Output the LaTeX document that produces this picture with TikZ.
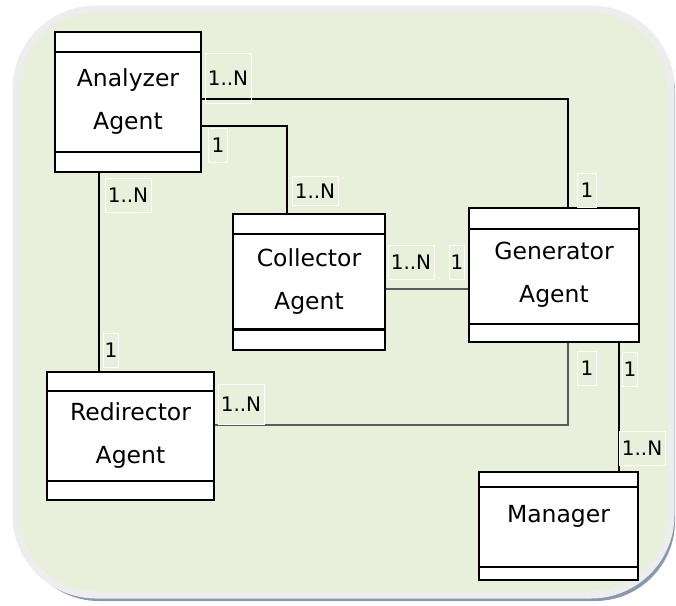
\documentclass[tikz,border=0pt]{standalone}
\usepackage{fontspec}
\setmainfont{DejaVu Sans}
\usetikzlibrary{positioning,calc}

\definecolor{panelgreen}{HTML}{E8F0DC}
\definecolor{panelrim}{HTML}{EDEDED}
\definecolor{panelshade}{HTML}{8898AE}
\definecolor{linkgray}{HTML}{5A5A5A}

% horizontal bands of a class box
\newcommand{\bands}[4][1.7pt]{%
  \draw[line width=1.7pt] ([yshift=-#3]#2.north west) -- ([yshift=-#3]#2.north east);
  \draw[line width=#1]    ([yshift=#4]#2.south west) -- ([yshift=#4]#2.south east);
}

\begin{document}
\begin{tikzpicture}[x=1pt, y=-1pt,
    class/.style={draw, fill=white, line width=1.7pt, align=center, inner sep=0pt,
                  font=\fontsize{23.5}{43}\selectfont},
    mult/.style={draw=white, line width=0.6pt, inner sep=3pt, minimum height=34pt,
                 font=\fontsize{20}{21}\selectfont},
    assoc/.style={line width=1.7pt}]

    \useasboundingbox (0,0) rectangle (676,605);

    % panel
    \fill[panelshade, rounded corners=80pt] (19,13) rectangle (675,601);
    \draw[panelrim, fill=panelgreen, line width=7pt, rounded corners=80pt] (16,9) rectangle (671,595);

    \node[class, minimum width=146pt, minimum height=140pt] (ana) at (128,102)   {Analyzer\\Agent};
    \node[class, minimum width=152pt, minimum height=136pt] (col) at (309,282)   {Collector\\Agent};
    \node[class, minimum width=170pt, minimum height=134pt] (gen) at (554,275)   {Generator\\Agent};
    \node[class, minimum width=167pt, minimum height=128pt] (red) at (130.5,436) {Redirector\\Agent};
    \node[class, minimum width=159pt, minimum height=108pt,
          text height=17pt, text depth=25pt]               (man) at (558.5,526) {Manager};

    \bands{ana}{21pt}{21pt}
    \bands[3pt]{col}{21pt}{21pt}
    \bands{gen}{22pt}{19pt}
    \bands{red}{20pt}{20pt}
    \bands{man}{16pt}{14pt}

    \draw[assoc]           ([yshift=3pt]ana.east)   -| ([xshift=14pt]gen.north);
    \draw[assoc]           ([yshift=-24pt]ana.east) -| ([xshift=-22pt]col.north);
    \draw[assoc]           ([xshift=-29pt]ana.south) -- ([xshift=-29pt]ana.south |- red.north);
    \draw[assoc, linkgray] ([yshift=-7pt]col.east)  -- ([yshift=-7pt]col.east -| gen.west);
    \draw[assoc, linkgray] ([yshift=11pt]red.east)  -| ([xshift=14pt]gen.south);
    \draw[assoc]           ([xshift=65pt]gen.south) -- ([xshift=65pt]gen.south |- man.north);

    \node[mult, minimum height=50pt] (m-ana-gen) at (228,78)  {1..N};
    \node[mult]                      (m-gen-ana) at (587,190) {1};
    \node[mult]                      (m-ana-col) at (218,145) {1};
    \node[mult, minimum height=29pt] (m-col-ana) at (315,191) {1..N};
    \node[mult]                      (m-ana-red) at (128,195) {1..N};
    \node[mult, inner sep=1pt]       (m-red-ana) at (111,350) {1};
    \node[mult]                      (m-col-gen) at (411,262) {1..N};
    \node[mult, inner sep=1pt]       (m-gen-col) at (457,262) {1};
    \node[mult, minimum height=40pt] (m-red-gen) at (241,404) {1..N};
    \node[mult]                      (m-gen-red) at (587,368) {1};
    \node[mult, inner sep=1pt]       (m-gen-man) at (630,369) {1};
    \node[mult]                      (m-man-gen) at (642,448) {1..N};

\end{tikzpicture}
\end{document}
